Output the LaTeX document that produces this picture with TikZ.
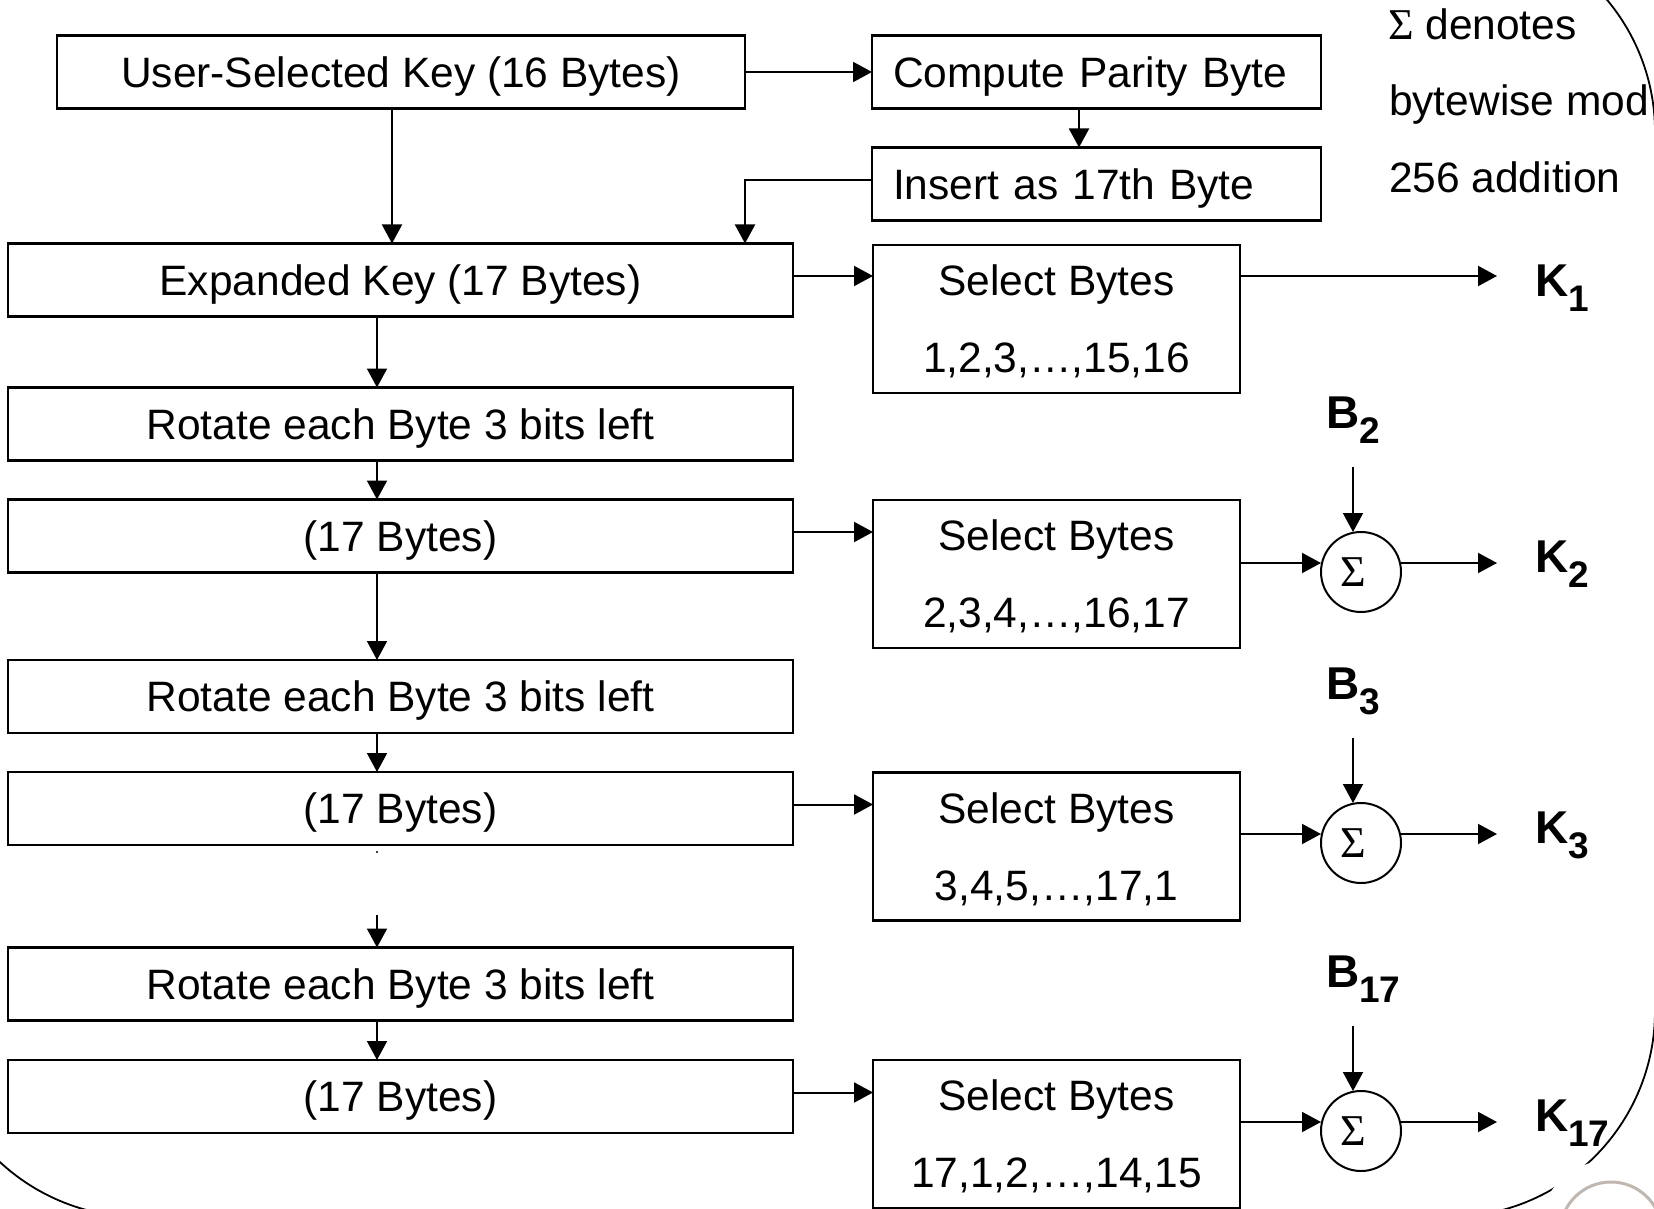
\documentclass[tikz,border=0pt]{standalone}
\usepackage{fontspec}
\setmainfont{Liberation Sans}
\newfontfamily\symfont{Liberation Serif}
\usetikzlibrary{arrows.meta}

% bold letter with a lowered bold index, as in K_2 or B_17
\newcommand\idxlabel[2]{\textbf{#1\raisebox{-7.5pt}{\fontsize{18.5}{18.5}\selectfont #2}}}

\begin{document}
\begin{tikzpicture}[x=0.5pt,y=-0.5pt,
  every node/.style={inner sep=0pt, outer sep=0pt},
  font=\fontsize{21.25}{25}\selectfont,
  box/.style={draw, line width=1.1pt, minimum height=36.5pt, text height=15.2pt, text depth=0pt},
  wide/.style={box, minimum width=392.5pt},
  leftbox/.style={box, text width=203.5pt, inner xsep=10.5pt, align=left},
  sel/.style={draw, line width=1.1pt, minimum width=183.5pt, minimum height=74pt, align=center,
              text depth=0pt, font=\fontsize{21.25}{38.5}\selectfont},
  sum/.style={draw, circle, line width=1pt, minimum size=40pt,
              label={[font=\symfont\fontsize{22}{22}\selectfont, xshift=-4pt]center:Σ}},
  arr/.style={line width=1pt, -{Triangle[length=9.5pt,width=10pt]}},
  idx/.style={anchor=base west, font=\fontsize{23}{23}\selectfont},
]
\useasboundingbox (0,0) rectangle (1654,1209);
\fill[white] (0,0) rectangle (1654,1209);

% slide frame with its rounded corners and the small ring
\begin{scope}
  \clip (0,0) rectangle (1654,1209);
  \draw[line width=0.9pt, rounded corners=103pt] (-66,-74) rectangle (1655,1217);
  \fill[white] (1611,1233) circle (36.5pt);
  \draw[line width=1.5pt, draw={rgb,255:red,192;green,184;blue,176}] (1611,1233) circle (25.5pt);
\end{scope}

% left column
\node[box, minimum width=344pt] (user) at (401,72) {User-Selected Key (16 Bytes)};
\node[wide] (expanded) at (400.5,280) {Expanded Key (17 Bytes)};
\node[wide] (rot1) at (400.5,424) {Rotate each Byte 3 bits left};
\node[wide] (b1) at (400.5,536) {(17 Bytes)};
\node[wide] (rot2) at (400.5,696.5) {Rotate each Byte 3 bits left};
\node[wide] (b2) at (400.5,808.5) {(17 Bytes)};
\node[wide] (rot3) at (400.5,984) {Rotate each Byte 3 bits left};
\node[wide] (b3) at (400.5,1096.5) {(17 Bytes)};

% parity insertion
\node[leftbox] (parity) at (1096.5,72) {Compute Parity Byte};
\node[leftbox] (insert) at (1096.5,184) {Insert as 17th Byte};

% byte selection
\node[sel] (sel1) at (1056.5,319) {Select Bytes\\1,2,3,…,15,16};
\node[sel] (sel2) at (1056.5,574) {Select Bytes\\2,3,4,…,16,17};
\node[sel] (sel3) at (1056.5,846.5) {Select Bytes\\3,4,5,…,17,1};
\node[sel] (sel17) at (1056.5,1134) {Select Bytes\\17,1,2,…,14,15};

% adders
\node[sum] (sum2) at (1361,572) {};
\node[sum] (sum3) at (1361,843) {};
\node[sum] (sum17) at (1361,1131) {};

% round constants and subkeys
\node[idx] (B2) at (1326,428) {\idxlabel{B}{2}};
\node[idx] (B3) at (1326,699) {\idxlabel{B}{3}};
\node[idx] (B17) at (1326,987) {\idxlabel{B}{17}};
\node[idx] (K1) at (1535,297) {\idxlabel{K}{1}};
\node[idx] (K2) at (1535,572) {\idxlabel{K}{2}};
\node[idx] (K3) at (1535,843) {\idxlabel{K}{3}};
\node[idx] (K17) at (1535,1131) {\idxlabel{K}{17}};

% note
\node[anchor=base west] (note1) at (1388,40) {{\symfont\fontsize{22}{22}\selectfont Σ} denotes};
\node[anchor=base west] (note2) at (1389,116) {bytewise mod};
\node[anchor=base west] (note3) at (1389,193) {256 addition};

% helper columns
\coordinate (spine) at (377,0);
\coordinate (drop) at (392,0);
\coordinate (pdrop) at (1079,0);
\coordinate (kcol) at (1497,0);

% key expansion flow
\draw[arr] (user) -- (parity);
\draw[arr] (parity.south -| pdrop) -- (insert.north -| pdrop);
\draw[arr] ([yshift=2pt]insert.west) -| (expanded.north -| user.east);
\draw[arr] (user.south -| drop) -- (expanded.north -| drop);
\draw[arr] (expanded.south -| spine) -- (rot1.north -| spine);
\draw[arr] (rot1.south -| spine) -- (b1.north -| spine);
\draw[arr] (b1.south -| spine) -- (rot2.north -| spine);
\draw[arr] (rot2.south -| spine) -- (b2.north -| spine);
\coordinate (gapdot) at (377,852);
\fill (gapdot) circle (0.6pt);
\coordinate (resume) at (377,915);
\draw[arr] (resume) -- (rot3.north -| spine);
\draw[arr] (rot3.south -| spine) -- (b3.north -| spine);

% into the selectors
\draw[arr] ([yshift=2pt]expanded.east) -- ([yshift=2pt]expanded.east -| sel1.west);
\draw[arr] ([yshift=2pt]b1.east) -- ([yshift=2pt]b1.east -| sel2.west);
\draw[arr] ([yshift=2pt]b2.east) -- ([yshift=2pt]b2.east -| sel3.west);
\draw[arr] ([yshift=2pt]b3.east) -- ([yshift=2pt]b3.east -| sel17.west);

% first subkey
\draw[arr] ([yshift=2pt]expanded.east -| sel1.east) -- ([yshift=2pt]expanded.east -| kcol);

% adders and their outputs
\foreach \s in {2,3,17}{
  \coordinate (in\s) at ([yshift=4.5pt]sum\s.west);
  \coordinate (out\s) at ([yshift=4.5pt]sum\s.east);
  \draw[arr] (in\s -| sel\s.east) -- (in\s);
  \draw[arr] (out\s) -- (out\s -| kcol);
  \draw[arr] ([xshift=-4pt,yshift=32.5pt]sum\s.north) -- ([xshift=-4pt]sum\s.north);
}
\end{tikzpicture}
\end{document}
